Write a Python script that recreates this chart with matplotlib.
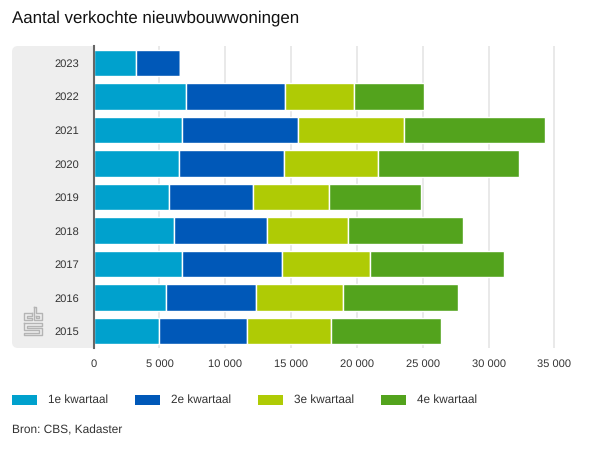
import matplotlib
matplotlib.use("Agg")
import matplotlib.pyplot as plt
from matplotlib.lines import Line2D
from matplotlib.patches import FancyBboxPatch, Rectangle
from matplotlib.transforms import Bbox, IdentityTransform

YEARS = ["2015", "2016", "2017", "2018", "2019", "2020", "2021", "2022", "2023"]
Q1 = [4990, 5525, 6745, 6135, 5755, 6515, 6745, 6985, 3245]
Q2 = [6690, 6840, 7595, 7065, 6380, 7980, 8815, 7585, 3320]
Q3 = [6380, 6610, 6685, 6155, 5775, 7140, 7975, 5240, 0]
Q4 = [8340, 8715, 10160, 8715, 6970, 10690, 10765, 5295, 0]
QUARTERS = ["1e kwartaal", "2e kwartaal", "3e kwartaal", "4e kwartaal"]
COLORS = ["#00a1cd", "#0058b8", "#afcb05", "#53a31d"]
XTICKS = [0, 5000, 10000, 15000, 20000, 25000, 30000, 35000]

plt.rcParams["font.family"] = ["Liberation Sans", "DejaVu Sans"]
plt.rcParams["text.hinting"] = "none"


def px(x, y):
    # pixel position measured from the top left of the image, to figure coords
    return x / 600, 1 - y / 450


def draw_logo(fig):
    shapes = [
        [(32, 313), (24, 313), (24, 320), (32, 320), (32, 318), (26.5, 318), (26.5, 315.5), (32, 315.5), (32, 313)],
        [(33.5, 307), (36, 307), (36, 313), (42, 313), (42, 320), (33.5, 320), (33.5, 307)],
        [(36, 315.5), (39.5, 315.5), (39.5, 318), (36, 318), (36, 315.5)],
        [(24, 323), (42, 323), (42, 325.5), (26.5, 325.5), (26.5, 327.5), (42, 327.5), (42, 335),
         (24, 335), (24, 332.5), (39.5, 332.5), (39.5, 330), (24, 330), (24, 323)],
    ]
    for shape in shapes:
        points = [px(x, y) for x, y in shape]
        fig.add_artist(Line2D([p[0] for p in points], [p[1] for p in points],
                              transform=fig.transFigure, color="#b4b4b4", linewidth=1.0, zorder=1))


fig = plt.figure(figsize=(6, 4.5), dpi=100)

# grey band behind the year labels, only the left corners are rounded
band = FancyBboxPatch((12, 102), 120, 302, boxstyle="round,pad=0,rounding_size=6",
                      transform=IdentityTransform(), facecolor="#eeeeee", edgecolor="none", zorder=1)
fig.add_artist(band)
band.set_clip_path(None)
band.set_clip_box(Bbox([[0, 0], [94, 450]]))

draw_logo(fig)

ax = fig.add_axes([93.6 / 600, 1 - 348 / 450, 478 / 600, 302 / 450])
ax.set_zorder(2)
ax.patch.set_alpha(0)

left = [0] * len(YEARS)
for values, color in zip([Q1, Q2, Q3, Q4], COLORS):
    ax.barh(YEARS, values, left=left, height=0.787, color=color,
            edgecolor="white", linewidth=1.0, zorder=3)
    left = [a + b for a, b in zip(left, values)]

ax.set_xlim(0, 36300)
ax.set_ylim(-0.5, 8.5)
ax.set_xticks(XTICKS)
ax.set_xticklabels([f"{t:,}".replace(",", " ") for t in XTICKS], fontsize=8, color="#333333")
ax.tick_params(axis="y", length=0, labelsize=8, labelcolor="#333333", pad=10.5)
ax.tick_params(axis="x", length=0, pad=8)
ax.grid(axis="x", color="#e3e3e3", linewidth=1.1, zorder=0)
ax.set_axisbelow(True)
for side in ["top", "right", "bottom"]:
    ax.spines[side].set_visible(False)
ax.spines["left"].set_color("#666666")
ax.spines["left"].set_linewidth(1.5)
ax.spines["left"].set_zorder(5)

fig.text(*px(12, 18), "Aantal verkochte nieuwbouwwoningen", fontsize=12.2, color="#111111", va="center")
fig.text(*px(12, 430), "Bron: CBS, Kadaster", fontsize=8.6, color="#333333", va="center")

for x, color, label in zip([12, 135, 258, 381], COLORS, QUARTERS):
    fig.add_artist(Rectangle(px(x, 405), 25 / 600, 10 / 450, transform=fig.transFigure,
                             facecolor=color, edgecolor="none"))
    fig.text(*px(x + 36, 400), label, fontsize=8.5, color="#333333", va="center")

fig.savefig("out.png", dpi=100)
